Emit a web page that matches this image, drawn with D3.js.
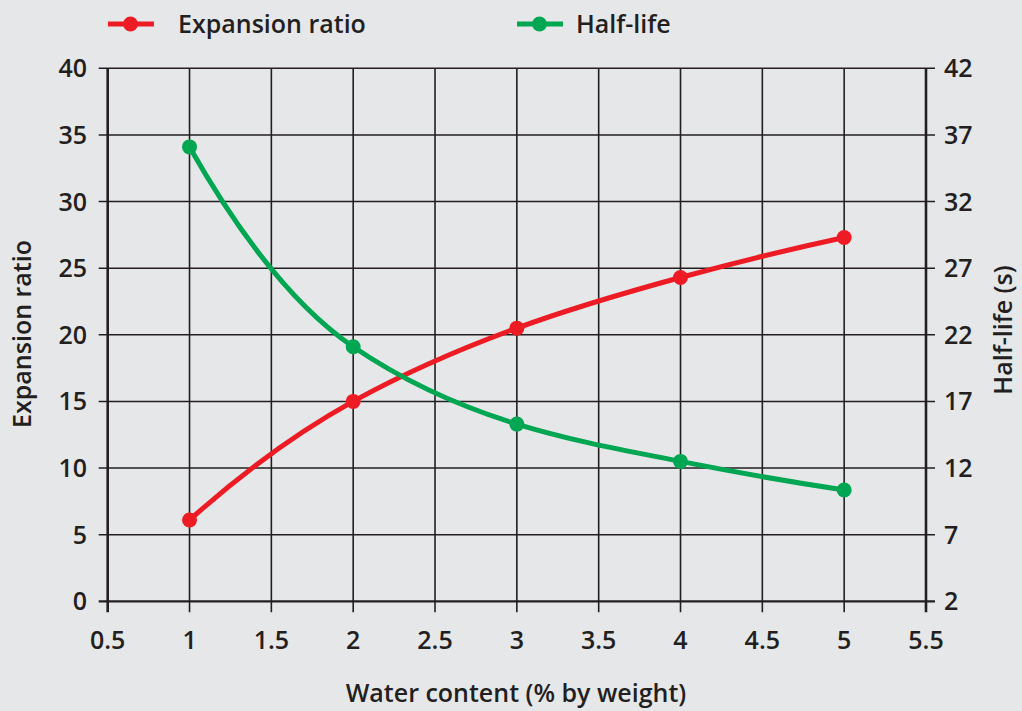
<!DOCTYPE html>
<html><head><meta charset="utf-8">
<script src="https://cdn.jsdelivr.net/npm/d3@7"></script>
<style>
html,body{margin:0;padding:0;background:#e6e7e9;}
svg{display:block;font-family:"Open Sans",sans-serif;}
</style></head><body>
<svg id="c" width="1022" height="711"></svg>
<script>
const waterContent = [1, 2, 3, 4, 5];
const expansionRatio = [6.1, 15.0, 20.5, 24.3, 27.3];
const halfLife = [36.1, 21.1, 15.3, 12.5, 10.35];
const xTicks = [0.5, 1, 1.5, 2, 2.5, 3, 3.5, 4, 4.5, 5, 5.5];
const leftTicks = [0, 5, 10, 15, 20, 25, 30, 35, 40];
const rightTicks = [2, 7, 12, 17, 22, 27, 32, 37, 42];
const seriesNames = ["Expansion ratio", "Half-life"];
const colors = ["#ed1c24", "#00a651"];

// Smooth Hermite curve (harmonic-mean tangents, parabolic end tangents)
function SmoothCurve(context) { this._context = context; }
SmoothCurve.prototype = {
  areaStart() { this._line = 0; }, areaEnd() { this._line = NaN; },
  lineStart() { this._x = []; this._y = []; },
  point(x, y) { this._x.push(+x); this._y.push(+y); },
  lineEnd() {
    const X = this._x, Y = this._y, n = X.length, c = this._context;
    if (!n) return;
    c.moveTo(X[0], Y[0]);
    if (n < 3) { for (let i = 1; i < n; i++) c.lineTo(X[i], Y[i]); return; }
    const s = [], m = [];
    for (let i = 0; i < n - 1; i++) s.push((Y[i + 1] - Y[i]) / (X[i + 1] - X[i]));
    for (let i = 1; i < n - 1; i++) m[i] = s[i - 1] * s[i] > 0 ? 2 * s[i - 1] * s[i] / (s[i - 1] + s[i]) : 0;
    m[0] = 2 * s[0] - m[1];
    m[n - 1] = 2 * s[n - 2] - m[n - 2];
    for (let i = 0; i < n - 1; i++) {
      const h = (X[i + 1] - X[i]) / 3;
      c.bezierCurveTo(X[i] + h, Y[i] + m[i] * h, X[i + 1] - h, Y[i + 1] - m[i + 1] * h, X[i + 1], Y[i + 1]);
    }
  }
};
const curveSmooth = ctx => new SmoothCurve(ctx);

const svg = d3.select("#c");
const L = 107.7, R = 926, T = 68.3, B = 601.3;
const x = d3.scaleLinear().domain([0.5, 5.5]).range([L, R]);
const yL = d3.scaleLinear().domain([0, 40]).range([B, T]);
const yR = d3.scaleLinear().domain([2, 42]).range([B, T]);
const ink = "#231f20";
const FS = 25;

// grid
const g = svg.append("g");
g.selectAll(".vg").data(xTicks).join("line")
  .attr("x1", d => x(d)).attr("x2", d => x(d)).attr("y1", T).attr("y2", B + 11)
  .attr("stroke", ink).attr("stroke-width", d => (d === 0.5 || d === 5.5) ? 2.6 : 1.6);
g.selectAll(".hg").data(leftTicks).join("line")
  .attr("x1", L - 9).attr("x2", R + 9).attr("y1", d => yL(d)).attr("y2", d => yL(d))
  .attr("stroke", ink).attr("stroke-width", d => d === 0 ? 2.2 : 1.6);

const lab = svg.append("g").attr("fill", ink).attr("font-size", FS).attr("font-weight", 600);
lab.selectAll(".lt").data(leftTicks).join("text")
  .attr("x", 87).attr("y", d => yL(d)).attr("dy", "0.36em").attr("text-anchor", "end").text(d => d);
lab.selectAll(".rt").data(rightTicks).join("text")
  .attr("x", 944).attr("y", d => yR(d)).attr("dy", "0.36em").attr("text-anchor", "start").text(d => d);
lab.selectAll(".xt").data(xTicks).join("text")
  .attr("x", d => x(d)).attr("y", 640).attr("dy", "0.36em").attr("text-anchor", "middle").text(d => d);

// axis titles
lab.append("text").attr("x", 516).attr("y", 693).attr("dy", "0.36em")
  .attr("text-anchor", "middle").text("Water content (% by weight)");
lab.append("text").attr("transform", "translate(22,334) rotate(-90)")
  .attr("dy", "0.36em").attr("text-anchor", "middle").text("Expansion ratio");
lab.append("text").attr("transform", "translate(1003,330) rotate(-90)")
  .attr("dy", "0.36em").attr("text-anchor", "middle").text("Half-life (s)");

// series
const series = [
  {vals: expansionRatio, y: yL, color: colors[0]},
  {vals: halfLife, y: yR, color: colors[1]}
];
series.forEach(s => {
  const line = d3.line().x((d, i) => x(waterContent[i])).y(d => s.y(d)).curve(curveSmooth);
  svg.append("path").attr("d", line(s.vals))
    .attr("fill", "none").attr("stroke", s.color).attr("stroke-width", 5);
  svg.selectAll(null).data(s.vals).join("circle")
    .attr("cx", (d, i) => x(waterContent[i])).attr("cy", d => s.y(d)).attr("r", 7.5).attr("fill", s.color);
});

// legend
const legX = [108, 517];
seriesNames.forEach((n, i) => {
  const lg = svg.append("g");
  lg.append("line").attr("x1", legX[i]).attr("x2", legX[i] + 46).attr("y1", 24).attr("y2", 24)
    .attr("stroke", colors[i]).attr("stroke-width", 5);
  lg.append("circle").attr("cx", legX[i] + 22.5).attr("cy", 24).attr("r", 7.5).attr("fill", colors[i]);
  lg.append("text").attr("x", legX[i] + (i === 0 ? 70 : 59)).attr("y", 24).attr("dy", "0.36em")
    .attr("fill", ink).attr("font-size", FS).attr("font-weight", 600).text(n);
});
</script></body></html>
